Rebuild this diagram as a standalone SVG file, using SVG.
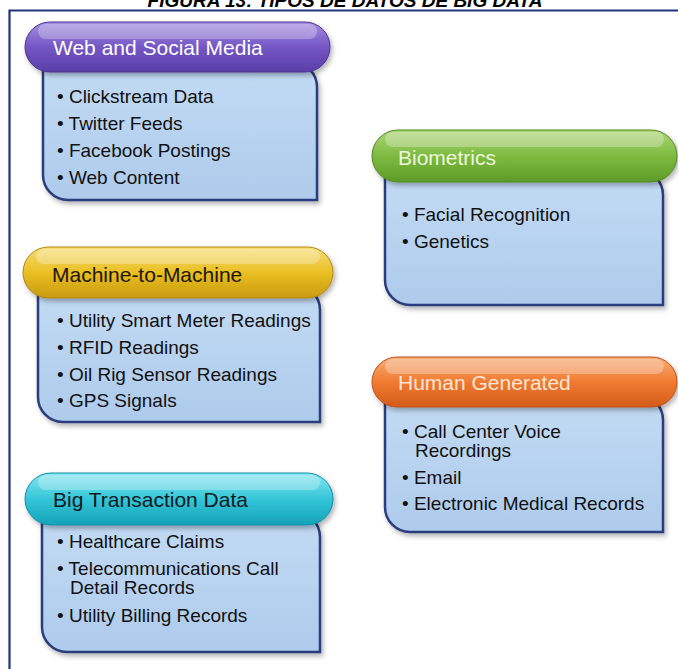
<svg xmlns="http://www.w3.org/2000/svg" width="678" height="669" viewBox="0 0 678 669">
<defs>
<style>
.title{font-family:"Liberation Sans",Arial,sans-serif;font-weight:bold;font-style:italic;font-size:19px;fill:#000}
.hd{font-family:"Liberation Sans",Arial,sans-serif;font-size:21px}
.it{font-family:"Liberation Sans",Arial,sans-serif;font-size:19px;fill:#111}
.body{fill:url(#gBody);stroke:#2b3c7c;stroke-width:2.5;filter:url(#sh)}
.hl{fill:#fff;opacity:0.28}
</style>
<linearGradient id="gBody" x1="0" y1="0" x2="0" y2="1">
<stop offset="0" stop-color="#c3dbf4"/><stop offset="1" stop-color="#aecbec"/>
</linearGradient>
<linearGradient id="gPurple" x1="0" y1="0" x2="0" y2="1">
<stop offset="0" stop-color="#a48ee0"/><stop offset="0.5" stop-color="#7456c4"/><stop offset="1" stop-color="#5a3ea8"/>
</linearGradient>
<linearGradient id="gGreen" x1="0" y1="0" x2="0" y2="1">
<stop offset="0" stop-color="#aed67a"/><stop offset="0.5" stop-color="#7dbb40"/><stop offset="1" stop-color="#5e9a28"/>
</linearGradient>
<linearGradient id="gYellow" x1="0" y1="0" x2="0" y2="1">
<stop offset="0" stop-color="#f6de78"/><stop offset="0.5" stop-color="#e9bf22"/><stop offset="1" stop-color="#c99a10"/>
</linearGradient>
<linearGradient id="gOrange" x1="0" y1="0" x2="0" y2="1">
<stop offset="0" stop-color="#f8ae78"/><stop offset="0.5" stop-color="#f07a30"/><stop offset="1" stop-color="#d45c1a"/>
</linearGradient>
<linearGradient id="gCyan" x1="0" y1="0" x2="0" y2="1">
<stop offset="0" stop-color="#88e6f0"/><stop offset="0.5" stop-color="#34c6d8"/><stop offset="1" stop-color="#14a2b8"/>
</linearGradient>
<filter id="sh" x="-10%" y="-10%" width="125%" height="130%">
<feDropShadow dx="2" dy="3" stdDeviation="2.5" flood-color="#000" flood-opacity="0.3"/>
</filter>
</defs>
<rect width="678" height="669" fill="#fff"/>
<text class="title" x="345" y="7" text-anchor="middle">FIGURA 13: TIPOS DE DATOS DE BIG DATA</text>
<path d="M9.5,669 V10.5 H678" fill="none" stroke="#1f3578" stroke-width="2.2"/>

<g id="web-social-media">
<path class="body" d="M43,62 H292 A25,25 0 0 1 317,87 V200 H68 A25,25 0 0 1 43,175 Z"/>
<rect x="25" y="22" width="305" height="50" rx="25" fill="url(#gPurple)" stroke="#4a3390" stroke-width="1" filter="url(#sh)"/>
<rect class="hl" x="38" y="24" width="279" height="15" rx="7.5"/>
<text class="hd" x="53" y="55" fill="#ffffff">Web and Social Media</text>
<text class="it" x="57" y="103">• Clickstream Data</text>
<text class="it" x="57" y="130">• Twitter Feeds</text>
<text class="it" x="57" y="157">• Facebook Postings</text>
<text class="it" x="57" y="184">• Web Content</text>
</g>

<g id="biometrics">
<path class="body" d="M385,170 H638 A25,25 0 0 1 663,195 V305 H410 A25,25 0 0 1 385,280 Z"/>
<rect x="372" y="130" width="305" height="52" rx="26" fill="url(#gGreen)" stroke="#4f8a20" stroke-width="1" filter="url(#sh)"/>
<rect class="hl" x="385" y="132" width="279" height="15" rx="7.5"/>
<text class="hd" x="398" y="165" fill="#eef8dc">Biometrics</text>
<text class="it" x="402" y="221">• Facial Recognition</text>
<text class="it" x="402" y="248">• Genetics</text>
</g>

<g id="machine-to-machine">
<path class="body" d="M38,285 H295 A25,25 0 0 1 320,310 V422 H63 A25,25 0 0 1 38,397 Z"/>
<rect x="23" y="247" width="310" height="51" rx="25.5" fill="url(#gYellow)" stroke="#b08810" stroke-width="1" filter="url(#sh)"/>
<rect class="hl" x="36" y="249" width="284" height="15" rx="7.5"/>
<text class="hd" x="52" y="282" fill="#1e1600">Machine-to-Machine</text>
<text class="it" x="57" y="327">• Utility Smart Meter Readings</text>
<text class="it" x="57" y="354">• RFID Readings</text>
<text class="it" x="57" y="381">• Oil Rig Sensor Readings</text>
<text class="it" x="57" y="407">• GPS Signals</text>
</g>

<g id="human-generated">
<path class="body" d="M385,395 H638 A25,25 0 0 1 663,420 V532 H410 A25,25 0 0 1 385,507 Z"/>
<rect x="372" y="357" width="305" height="50" rx="25" fill="url(#gOrange)" stroke="#c0501a" stroke-width="1" filter="url(#sh)"/>
<rect class="hl" x="385" y="359" width="279" height="15" rx="7.5"/>
<text class="hd" x="398" y="390" fill="#fde6d6">Human Generated</text>
<text class="it" x="402" y="438">• Call Center Voice</text>
<text class="it" x="415" y="457">Recordings</text>
<text class="it" x="402" y="484">• Email</text>
<text class="it" x="402" y="510">• Electronic Medical Records</text>
</g>

<g id="big-transaction-data">
<path class="body" d="M42,512 H295 A25,25 0 0 1 320,537 V652 H67 A25,25 0 0 1 42,627 Z"/>
<rect x="25" y="473" width="308" height="52" rx="26" fill="url(#gCyan)" stroke="#1090a8" stroke-width="1" filter="url(#sh)"/>
<rect class="hl" x="38" y="475" width="282" height="15" rx="7.5"/>
<text class="hd" x="53" y="507" fill="#0e1a22">Big Transaction Data</text>
<text class="it" x="57" y="548">• Healthcare Claims</text>
<text class="it" x="57" y="575">• Telecommunications Call</text>
<text class="it" x="70" y="594">Detail Records</text>
<text class="it" x="57" y="622">• Utility Billing Records</text>
</g>
</svg>
